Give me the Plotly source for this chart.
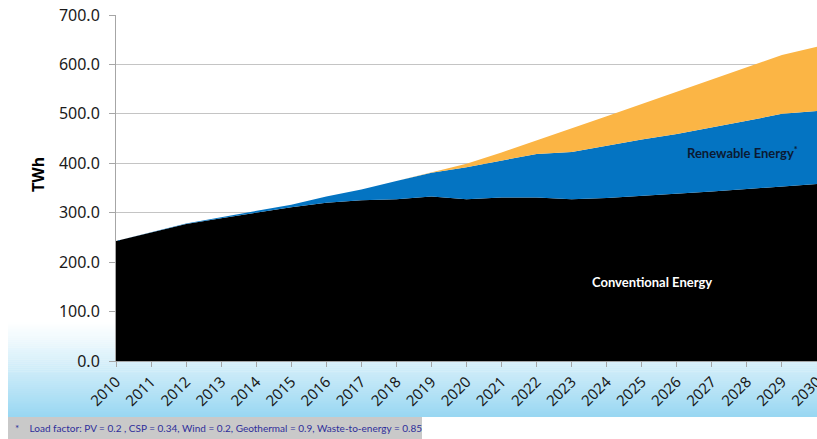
import plotly.graph_objects as go

years = [str(y) for y in range(2010, 2031)]
conventional = [243, 260, 277, 289, 300, 311, 320, 325, 327, 333, 327, 331, 331, 327, 330, 334, 338, 343, 348, 353, 358]
renewable_total = [243, 261, 278, 291, 303, 316, 333, 347, 364, 381, 392, 405, 419, 423, 436, 448, 459, 472, 486, 500, 506]
grand_total = [243, 261, 278, 291, 303, 316, 333, 347, 364, 381, 399, 422, 446, 470, 495, 520, 545, 570, 595, 619, 636]

renewable = [r - c for r, c in zip(renewable_total, conventional)]
other = [g - r for g, r in zip(grand_total, renewable_total)]
x_vals = list(range(2010, 2031))

W, H = 817, 439
L, R, T, B = 116, 817, 15, 361

def px(x):
    return (x - L) / (R - L)

def py(y):
    return (B - y) / (B - T)

fig = go.Figure()
fig.add_trace(go.Scatter(x=x_vals, y=conventional, stackgroup="s", mode="lines",
                         line=dict(width=0, color="#000000"), fillcolor="#000000",
                         name="Conventional Energy", hoverinfo="skip"))
fig.add_trace(go.Scatter(x=x_vals, y=renewable, stackgroup="s", mode="lines",
                         line=dict(width=0, color="#0070C0"), fillcolor="#0474C2",
                         name="Renewable Energy", hoverinfo="skip"))
fig.add_trace(go.Scatter(x=x_vals, y=other, stackgroup="s", mode="lines",
                         line=dict(width=0, color="#FBB545"), fillcolor="#FBB545",
                         name="Other", hoverinfo="skip"))

shapes = []
# background gradient (white -> light blue)
top_y, bot_y = 322, 417
n = 48
c0 = (255, 255, 255)
c1 = (152, 215, 242)
for i in range(n):
    y0 = top_y + (bot_y - top_y) * i / n
    y1 = top_y + (bot_y - top_y) * (i + 1) / n
    t = ((i + 0.5) / n) ** 1.1
    col = tuple(int(round(a + (b - a) * t)) for a, b in zip(c0, c1))
    shapes.append(dict(type="rect", xref="paper", yref="paper", layer="below",
                       x0=px(8), x1=px(817), y0=py(y1), y1=py(y0) + 0.001,
                       fillcolor="rgb(%d,%d,%d)" % col, line=dict(width=0)))
# footnote box
shapes.append(dict(type="rect", xref="paper", yref="paper", layer="below",
                   x0=px(8), x1=px(422), y0=py(439), y1=py(417),
                   fillcolor="#C9C9C9", line=dict(width=0)))

annotations = [
    dict(text="TWh", x=px(38), y=py(175), xref="paper", yref="paper", showarrow=False,
         xanchor="center", yanchor="middle",
         textangle=-90, font=dict(family="Noto Sans", size=16, color="#000000", weight="bold")),
    dict(text="Conventional Energy", x=px(652), y=py(282), xref="paper", yref="paper",
         xanchor="center", yanchor="middle",
         showarrow=False, font=dict(family="Lato", size=13, color="#FFFFFF", weight="bold")),
    dict(text="Renewable Energy<sup>*</sup>", x=px(742), y=py(152), xref="paper", yref="paper",
         xanchor="center", yanchor="middle",
         showarrow=False, font=dict(family="Lato", size=13, color="#0B1A33", weight="bold")),
    dict(text="*    Load factor: PV = 0.2 , CSP = 0.34, Wind = 0.2, Geothermal = 0.9, Waste-to-energy = 0.85",
         x=px(13), y=py(428), xref="paper", yref="paper", xanchor="left", yanchor="middle",
         showarrow=False, font=dict(family="Lato", size=10, color="#2E2E9A")),
]

fig.update_layout(
    width=W, height=H,
    margin=dict(l=L, r=W - R, t=T, b=H - B, pad=0, autoexpand=False),
    paper_bgcolor="white", plot_bgcolor="rgba(0,0,0,0)",
    showlegend=False,
    shapes=shapes, annotations=annotations,
    xaxis=dict(range=[2010, 2030], tickmode="array", tickvals=x_vals, ticktext=years,
               tickangle=-45, ticks="outside", ticklen=5, tickcolor="#A6A6A6",
               automargin=False, ticklabeloverflow="allow",
               showline=True, linecolor="#A6A6A6", linewidth=1, showgrid=False, zeroline=False,
               tickfont=dict(family="Noto Sans", size=15, color="#1A1A1A")),
    yaxis=dict(range=[0, 700], tickvals=[0, 100, 200, 300, 400, 500, 600, 700],
               ticktext=["0.0", "100.0", "200.0", "300.0", "400.0", "500.0", "600.0", "700.0"],
               ticks="outside", ticklen=6, tickcolor="#A6A6A6", ticklabelstandoff=6,
               automargin=False,
               showline=True, linecolor="#A6A6A6", linewidth=1,
               showgrid=True, gridcolor="#C4C4C4", gridwidth=1, zeroline=False,
               tickfont=dict(family="Noto Sans", size=16, color="#1A1A1A")),
)

fig.write_html("out.html", config={"displayModeBar": False},
               post_script="document.body.style.margin='0';document.body.style.overflow='hidden';")
